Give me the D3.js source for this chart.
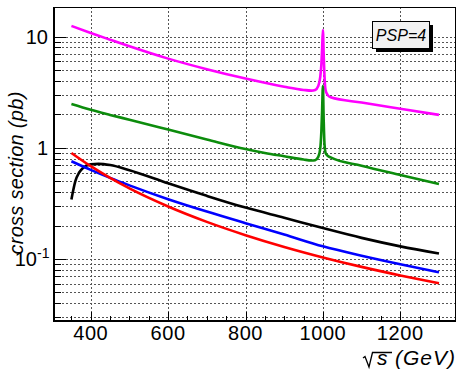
<!DOCTYPE html>
<html>
<head>
<meta charset="utf-8">
<script src="https://cdn.jsdelivr.net/npm/d3@7"></script>
<style>
  body { margin: 0; background: #fff; }
  text { font-family: "Liberation Sans", Arial, sans-serif; }
</style>
</head>
<body>
<div id="chart"></div>
<script>
// sqrt(s) in GeV and cross sections in pb
const magentaX = [350, 400, 450, 500, 600, 700, 800, 900, 950, 970, 980, 988, 993, 996, 998, 1000, 1002, 1004, 1007, 1012, 1020, 1100, 1200, 1300];
const magentaY = [12.5, 10.8, 9.4, 8.2, 6.35, 5.1, 4.2, 3.55, 3.32, 3.27, 3.32, 3.6, 4.3, 5.6, 7.8, 11.5, 7.0, 4.5, 3.3, 3.0, 2.85, 2.56, 2.25, 1.98];

const greenX = [350, 400, 450, 500, 600, 700, 800, 850, 900, 950, 970, 980, 988, 993, 996, 998, 1000, 1002, 1004, 1007, 1012, 1020, 1100, 1200, 1300];
const greenY = [2.48, 2.2, 1.98, 1.79, 1.46, 1.19, 0.975, 0.9, 0.84, 0.785, 0.77, 0.775, 0.83, 0.98, 1.4, 2.2, 3.6, 1.8, 1.1, 0.9, 0.85, 0.82, 0.69, 0.57, 0.473];

const blackX = [350, 355, 360, 370, 380, 400, 420, 450, 500, 600, 700, 800, 900, 1000, 1100, 1200, 1300];
const blackY = [0.343, 0.42, 0.5, 0.6, 0.66, 0.71, 0.718, 0.70, 0.63, 0.48, 0.37, 0.29, 0.235, 0.19, 0.155, 0.13, 0.112];

const blueX = [350, 400, 450, 500, 600, 700, 800, 900, 1000, 1100, 1200, 1300];
const blueY = [0.758, 0.634, 0.537, 0.46, 0.345, 0.267, 0.21, 0.166, 0.13, 0.107, 0.0897, 0.076];

const redX = [350, 400, 450, 500, 600, 700, 800, 900, 1000, 1100, 1200, 1300];
const redY = [0.90, 0.684, 0.537, 0.432, 0.297, 0.216, 0.164, 0.1285, 0.1034, 0.085, 0.0712, 0.0605];

const xMajor = [400, 600, 800, 1000, 1200];
const xMinor = d3.range(350, 1301, 50);
const yLabels = [{ v: 10, base: "10", sup: "" }, { v: 1, base: "1", sup: "" }, { v: 0.1, base: "10", sup: "-1" }];

const series = [
    { x: magentaX, y: magentaY, color: "#ff00ff" },
    { x: greenX, y: greenY, color: "#0c8c0c" },
    { x: blackX, y: blackY, color: "#000000" },
    { x: blueX, y: blueY, color: "#0000ff" },
    { x: redX, y: redY, color: "#ff0000" }
];

const width = 458, height = 371;
const fLeft = 54, fRight = 456, fTop = 7, fBottom = 321;

const svg = d3.select("#chart").append("svg")
    .attr("width", width)
    .attr("height", height);

const x = d3.scaleLinear().domain([305, 1344]).range([fLeft, fRight]);
const y = d3.scaleLog().domain([0.0277, 18.5]).range([fBottom, fTop]);

// minor/major y values for grid and ticks
const yTicks = [];
[0.01, 0.1, 1, 10].forEach(dec => {
    for (let k = 1; k <= 9; k++) {
        const v = dec * k;
        if (v >= 0.0277 && v <= 18.5) yTicks.push({ v: v, major: k === 1 });
    }
});

// grid
const grid = svg.append("g").attr("class", "grid")
    .attr("stroke", "#555")
    .attr("stroke-width", 1)
    .attr("stroke-dasharray", "2,2");

grid.selectAll("line.hgrid")
    .data(yTicks)
    .enter()
    .append("line")
    .attr("x1", fLeft).attr("x2", fRight)
    .attr("y1", d => Math.round(y(d.v)) + 0.5)
    .attr("y2", d => Math.round(y(d.v)) + 0.5);

grid.selectAll("line.vgrid")
    .data(xMajor)
    .enter()
    .append("line")
    .attr("y1", fTop).attr("y2", fBottom)
    .attr("x1", d => Math.round(x(d)) + 0.5)
    .attr("x2", d => Math.round(x(d)) + 0.5);

// curves
const line = d3.line()
    .x(d => x(d[0]))
    .y(d => y(d[1]))
    .curve(d3.curveMonotoneX);

svg.append("g").selectAll("path")
    .data(series)
    .enter()
    .append("path")
    .attr("d", d => line(d.x.map((v, i) => [v, d.y[i]])))
    .attr("fill", "none")
    .attr("stroke", d => d.color)
    .attr("stroke-width", 2.6)
    .attr("stroke-linejoin", "round");

// frame
svg.append("rect")
    .attr("x", fLeft + 0.5).attr("y", fTop + 0.5)
    .attr("width", fRight - fLeft - 1).attr("height", fBottom - fTop)
    .attr("fill", "none")
    .attr("stroke", "#000")
    .attr("stroke-width", 1);

svg.append("line")
    .attr("x1", fLeft).attr("x2", fLeft).attr("y1", fTop).attr("y2", fBottom + 1)
    .attr("stroke", "#000").attr("stroke-width", 2);
svg.append("line")
    .attr("x1", fLeft - 1).attr("x2", fRight).attr("y1", fBottom).attr("y2", fBottom)
    .attr("stroke", "#000").attr("stroke-width", 2);

// x ticks (pointing up into the frame)
svg.append("g").selectAll("line")
    .data(xMinor)
    .enter()
    .append("line")
    .attr("x1", d => Math.round(x(d)) + 0.5)
    .attr("x2", d => Math.round(x(d)) + 0.5)
    .attr("y1", fBottom)
    .attr("y2", d => fBottom - (xMajor.includes(d) ? 9 : 5))
    .attr("stroke", "#000");

// y ticks
svg.append("g").selectAll("line")
    .data(yTicks)
    .enter()
    .append("line")
    .attr("x1", fLeft)
    .attr("x2", d => fLeft + (d.major ? 12 : 7))
    .attr("y1", d => Math.round(y(d.v)) + 0.5)
    .attr("y2", d => Math.round(y(d.v)) + 0.5)
    .attr("stroke", "#000");

// x tick labels
svg.append("g").selectAll("text")
    .data(xMajor)
    .enter()
    .append("text")
    .attr("x", d => x(d))
    .attr("y", 340)
    .attr("text-anchor", "middle")
    .attr("font-size", 20)
    .attr("letter-spacing", 0.6)
    .text(d => d);

// y tick labels
const yl = svg.append("g").selectAll("text")
    .data(yLabels)
    .enter()
    .append("text")
    .attr("x", d => d.sup ? 37 : 48)
    .attr("y", d => y(d.v) + 7)
    .attr("text-anchor", "end")
    .attr("font-size", 20);
yl.append("tspan").text(d => d.base);
svg.append("g").selectAll("text")
    .data(yLabels.filter(d => d.sup))
    .enter()
    .append("text")
    .attr("x", 37)
    .attr("y", d => y(d.v) - 1)
    .attr("font-size", 14)
    .text(d => d.sup);

// axis titles
svg.append("text")
    .attr("transform", "translate(23,173) rotate(-90)")
    .attr("text-anchor", "middle")
    .attr("font-size", 20)
    .attr("letter-spacing", 0.3)
    .attr("font-style", "italic")
    .text("cross section (pb)");

svg.append("text")
    .attr("x", 456)
    .attr("y", 365)
    .attr("text-anchor", "end")
    .attr("font-size", 21)
    .attr("letter-spacing", 1)
    .attr("font-style", "italic")
    .text("(GeV)");

svg.append("text")
    .attr("x", 377)
    .attr("y", 365)
    .attr("font-size", 21)
    .attr("font-style", "italic")
    .text("s");

// radical sign over s
svg.append("path")
    .attr("d", "M363,358 L365,356.5 L369,367 L372.5,352.5 L392,352.5")
    .attr("fill", "none")
    .attr("stroke", "#000")
    .attr("stroke-width", 1.3)
    .attr("stroke-linejoin", "miter");

// PSP label box
const box = svg.append("g");
box.append("rect")
    .attr("x", 376).attr("y", 25).attr("width", 57).attr("height", 27)
    .attr("fill", "#000");
box.append("rect")
    .attr("x", 372.5).attr("y", 21.5).attr("width", 57).attr("height", 27)
    .attr("fill", "#f2f2f2").attr("stroke", "#000");
box.append("text")
    .attr("x", 401).attr("y", 41)
    .attr("text-anchor", "middle")
    .attr("font-size", 16)
    .attr("font-style", "italic")
    .text("PSP=4");
</script>
</body>
</html>
